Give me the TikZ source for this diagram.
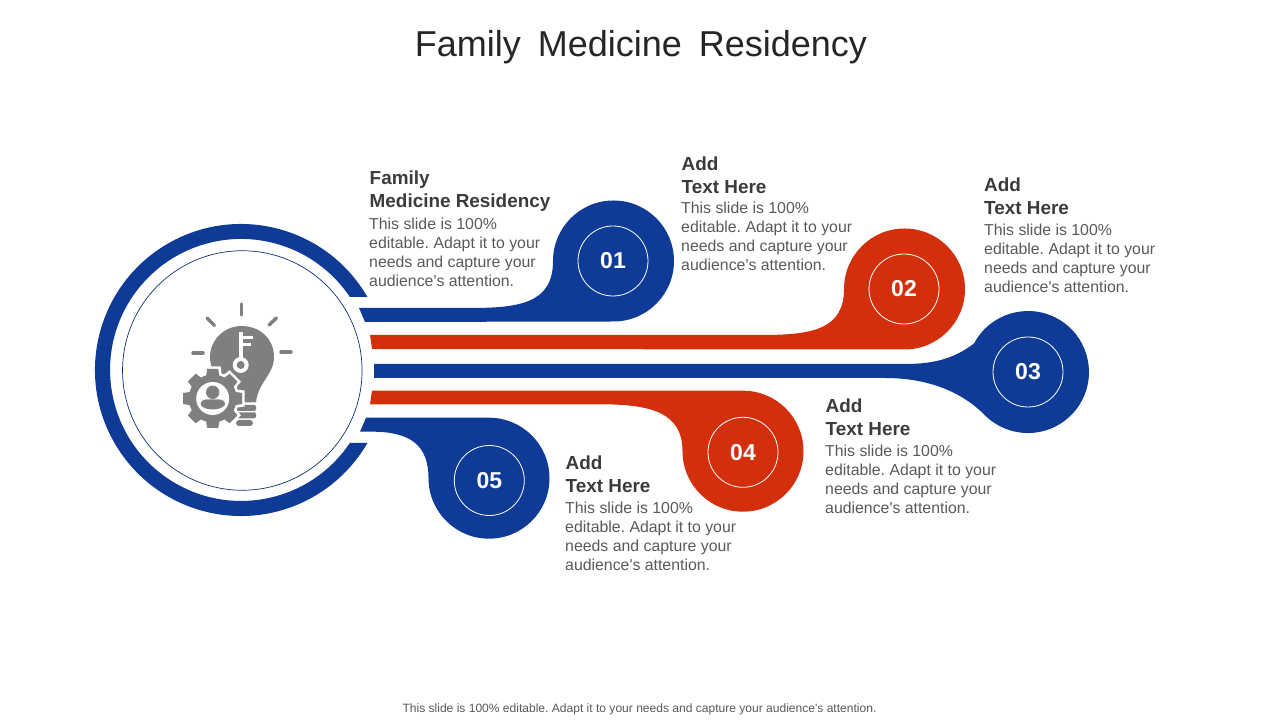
\documentclass[tikz,border=0pt]{standalone}
\usepackage{fontspec}
\setmainfont{Liberation Sans}
\definecolor{bandblue}{HTML}{0F3B97}
\definecolor{bandred}{HTML}{D32F0D}
\definecolor{titlegray}{HTML}{262626}
\definecolor{headgray}{HTML}{3B3B3B}
\definecolor{bodygray}{HTML}{595959}
\definecolor{icongray}{HTML}{7F7F7F}
\newcommand{\blurb}{This slide is 100\%\\editable. Adapt it to your\\needs and capture your\\audience\textquotesingle s attention.}
\tikzset{
  numring/.style={circle,draw=white,line width=0.8pt,minimum size=70pt,inner sep=0pt,text=white,
    font=\bfseries\fontsize{23}{23}\selectfont},
  headtext/.style={anchor=north west,inner sep=0pt,align=left,text=headgray,
    font=\frenchspacing\bfseries\fontsize{18.9}{23}\selectfont},
  bodytext/.style={anchor=north west,inner sep=0pt,align=left,text=bodygray,
    font=\frenchspacing\fontsize{15.85}{19}\selectfont},
  iconray/.style={draw=icongray,line width=3.5pt,line cap=round}
}
\begin{document}
\begin{tikzpicture}[x=1pt,y=1pt]
      \useasboundingbox (0,0) rectangle (1280,720);
      \node[anchor=center,inner sep=0pt,text=titlegray,font=\fontsize{36}{36}\selectfont] (title) at (641,673)
        {Family\hspace{7pt} Medicine\hspace{7pt} Residency};
      \node[anchor=center,inner sep=0pt,text=bodygray,font=\frenchspacing\fontsize{12.05}{12}\selectfont] (footer) at (639.5,10.5)
        {This slide is 100\% editable. Adapt it to your needs and capture your audience\textquotesingle s attention.};

      \fill[bandblue] (367.4,423) arc (30:330:146) -- (349.8,277) arc (-33.9:-326.1:131) -- cycle;
      \node[circle,draw=bandblue!80!black,line width=0.7pt,minimum size=239.5pt,inner sep=0pt] (hub) at (242.3,349.5) {};

      \fill[bandblue] (359,412) -- (470,412) .. controls (520,412) and (553,417) .. (553,459)
        arc (180:-90:60.5) -- (365,398) -- cycle;
      \fill[bandred] (370,385) -- (761,385) .. controls (811,385) and (844,390) .. (844,431)
        arc (180:-90:60.5) -- (372,371) -- cycle;
      \fill[bandblue] (374,356) -- (905,356) .. controls (935,356) and (955,362) .. (974.1,376.6)
        arc (152:-135:61) .. controls (960,330) and (925,342) .. (885,342) -- (374,342) -- cycle;
      \fill[bandred] (372,329.3) -- (743,329.3) arc (90:-180:60.5)
        .. controls (682.5,308) and (650,315.7) .. (600,315.7) -- (370,315.7) -- cycle;
      \fill[bandblue] (366,302.3) -- (489,302.3) arc (90:-180:60.5)
        .. controls (428.5,275) and (410,288.3) .. (372,288.3) -- (360,288.3) -- cycle;

      \node[numring] (num1) at (613,459) {01};
      \node[numring] (num2) at (904,431) {02};
      \node[numring] (num3) at (1028,348) {03};
      \node[numring] (num4) at (743,267.7) {04};
      \node[numring] (num5) at (489.3,239.5) {05};

      \node[headtext] (head1) at (369.5,549) {Family\\Medicine Residency};
      \node[bodytext] (body1) at (369,502.2) {\blurb};
      \node[headtext] (head2) at (681.5,563.5) {Add\\Text Here};
      \node[bodytext] (body2) at (681,518.2) {\blurb};
      \node[headtext] (head3) at (984,542.5) {Add\\Text Here};
      \node[bodytext] (body3) at (984,496.2) {\blurb};
      \node[headtext] (head4) at (825.5,321.5) {Add\\Text Here};
      \node[bodytext] (body4) at (825,275.2) {\blurb};
      \node[headtext] (head5) at (565.5,264.5) {Add\\Text Here};
      \node[bodytext] (body5) at (565,218.2) {\blurb};

      \draw[iconray] (241.3,416) -- (241.3,405);
      \draw[iconray] (207,402) -- (214.5,394.5);
      \draw[iconray] (276.5,402) -- (269,395);
      \draw[iconray] (193,367) -- (203,367);
      \draw[iconray] (281,368) -- (291,368);

      \fill[icongray] (256,317.5) .. controls (258,338) and (274,345) .. (274,363)
        .. controls (274,382) and (259,394) .. (241.7,394)
        .. controls (224,394) and (210,380) .. (210,363)
        .. controls (210,345) and (228,330) .. (232,317.5) -- cycle;
      \fill[icongray,rounded corners=1.5pt] (234,309) rectangle (256,315);
      \fill[icongray,rounded corners=1.5pt] (234,301.7) rectangle (256,307.7);
      \fill[icongray,rounded corners=3pt] (236,294) rectangle (253,300);

      \fill[white] (238.7,388.3) rectangle (243,360);
      \fill[white] (241,384) rectangle (252.7,380.7);
      \fill[white] (241,377.3) rectangle (251,374);
      \fill[white] (240.7,355) circle (8);
      \fill[icongray] (240.7,355) circle (4);

      \foreach \a in {0,45,...,315}
        \fill[white,shift={(212.7,321.5)},rotate=\a] (-9.5,20) -- (-8,32) -- (8,32) -- (9.5,20) -- cycle;
      \fill[white] (212.7,321.5) circle (26.5);
      \foreach \a in {0,45,...,315}
        \fill[icongray,shift={(212.7,321.5)},rotate=\a] (-7,20) -- (-5.5,29.5) -- (5.5,29.5) -- (7,20) -- cycle;
      \fill[icongray] (212.7,321.5) circle (24);
      \fill[white] (212.7,321.5) circle (16.5);
      \fill[icongray] (212.7,327.7) circle (6.7);
      \fill[icongray] (200.7,315) .. controls (200.7,322) and (207,320.5) .. (212.7,320.5)
        .. controls (218.5,320.5) and (225,322) .. (225,315)
        .. controls (220,309) and (205,309) .. (200.7,315) -- cycle;
    \end{tikzpicture}
\end{document}
